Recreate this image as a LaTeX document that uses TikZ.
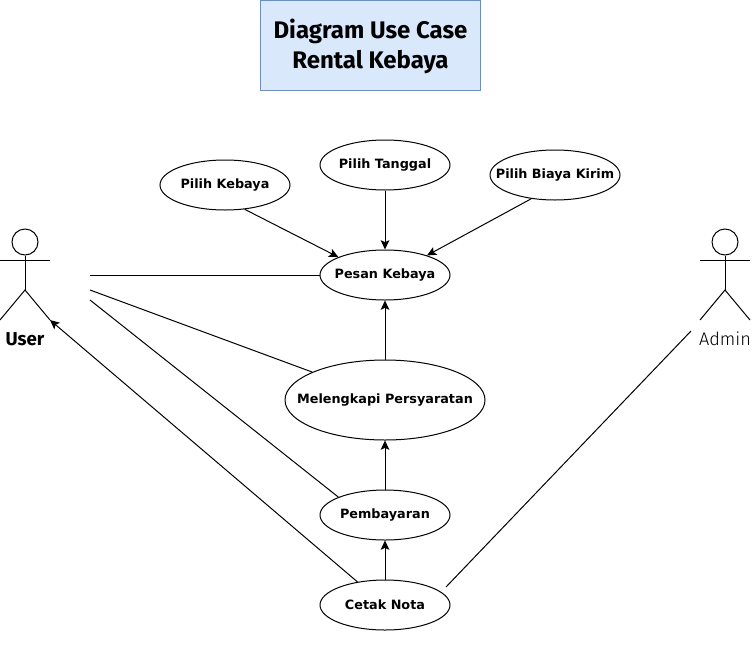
\documentclass[tikz,border=0pt]{standalone}
\usepackage{fontspec}
\setmainfont{DejaVu Sans}
\newfontfamily\handfont{Fira Sans}
\newfontfamily\handlight{Fira Sans Light}
\usetikzlibrary{arrows.meta,positioning,calc,shapes.geometric}
\definecolor{ucblue}{HTML}{DAE8FC}
\definecolor{ucedge}{HTML}{6C8EBF}
\tikzset{
  ucase/.style={draw=black, line width=0.75pt, fill=white, ellipse, inner xsep=-30pt, inner ysep=-5pt,
                minimum width=97.5pt, minimum height=37.5pt, font=\bfseries\fontsize{9.6}{11}\selectfont},
  uctitle/.style={draw=ucedge, line width=0.75pt, fill=ucblue, inner sep=0pt, minimum width=164.5pt, minimum height=67.5pt,
                  align=center, text height=38.5pt, font=\handfont\bfseries\fontsize{18}{22}\selectfont},
  uclink/.style={draw=black, line width=0.75pt},
  ucarrow/.style={uclink, -{Stealth[length=7pt,width=6.5pt,inset=1.5pt]}},
  uclabel/.style={inner sep=0pt},
}
\begin{document}
\begin{tikzpicture}[x=0.75pt,y=-0.75pt]
  \useasboundingbox (0,0) rectangle (752,646);
  \node[uctitle] (title) at (370.5,45) {Diagram Use Case\\Rental Kebaya};
  % use cases
  \node[ucase] (kebaya)  at (225,185) {Pilih Kebaya};
  \node[ucase] (tanggal) at (385,165) {Pilih Tanggal};
  \node[ucase] (biaya)   at (555,175) {Pilih Biaya Kirim};
  \node[ucase] (pesan)   at (385,275) {Pesan Kebaya};
  \node[ucase,minimum width=150pt,minimum height=60pt] (syarat) at (385,400) {Melengkapi Persyaratan};
  \node[ucase] (bayar)   at (385,515) {Pembayaran};
  \node[ucase] (nota)    at (385,605) {Cetak Nota};
  % actors
  \foreach \n/\x/\t/\f in {user/25/User/\handfont\bfseries\fontsize{14}{16}\selectfont, admin/725/Admin/\handlight\fontsize{13.6}{16}\selectfont}
    {\node[draw=black,circle,inner sep=0pt,minimum size=19.5pt,line width=0.75pt] (\n head) at (\x,242) {};
     \coordinate (\n hip) at (\x,290);
     \draw[uclink] (\n head.south) -- (\n hip);
     \draw[uclink] (\x-25,260) -- (\x+25,260);
     \draw[uclink] (\x-25,320) -- (\n hip) -- (\x+25,320);
     \node[uclabel] (\n label) at (\x,339) {\f\t};}
  \coordinate (userfoot) at (50,320);
  \coordinate (usera) at (90,275);
  \coordinate (userb) at (90,290);
  \coordinate (userc) at (90,300);
  \coordinate (admina) at (691,331);
  \coordinate (notaend) at (446,587);
  % connectors
  \draw[ucarrow] (kebaya.-51) -- (pesan.159);
  \draw[ucarrow] (tanggal) -- (pesan);
  \draw[ucarrow] (biaya.-135) -- (pesan.25);
  \draw[ucarrow] (syarat) -- (pesan);
  \draw[ucarrow] (bayar) -- (syarat);
  \draw[ucarrow] (nota) -- (bayar);
  \draw[uclink] (usera) -- (pesan);
  \draw[uclink] (userb) -- (syarat.159);
  \draw[uclink] (userc) -- (bayar.159);
  \draw[ucarrow] (nota.140) -- (userfoot);
  \draw[uclink] (admina) -- (notaend);
\end{tikzpicture}
\end{document}
